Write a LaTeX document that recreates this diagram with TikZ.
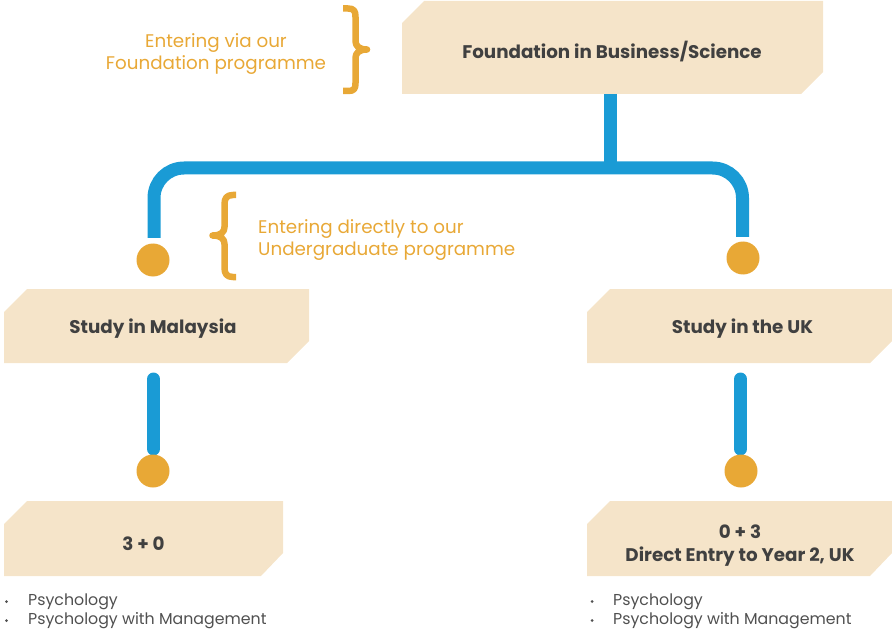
\documentclass[tikz,border=0pt]{standalone}
\usepackage{fontspec}
\setmainfont{Poppins}
\definecolor{boxfill}{HTML}{F5E4C9}
\definecolor{lineblue}{HTML}{1A9BD5}
\definecolor{dotorange}{HTML}{E8A836}
\definecolor{labeltext}{HTML}{404040}
\definecolor{bullettext}{HTML}{505050}
\tikzset{
  boxshape/.style={fill=boxfill, draw=none},
  boxlabel/.style={text=labeltext, font=\fontsize{18.3bp}{23bp}\selectfont\bfseries, align=center, inner sep=0pt},
  notetext/.style={text=dotorange, font=\fontsize{18.3bp}{22bp}\selectfont, align=center, inner sep=0pt},
  bracestroke/.style={draw=dotorange, line width=6.5bp, line cap=butt, line join=round},
  connector/.style={draw=lineblue, line width=13bp},
  enddot/.style={circle, fill=dotorange, minimum size=33bp, inner sep=0pt},
  itemtext/.style={text=bullettext, font=\fontsize{15.8bp}{19bp}\selectfont, anchor=west, inner sep=0pt},
  itemdot/.style={circle, fill=bullettext, minimum size=3bp, inner sep=0pt},
}
\begin{document}
\begin{tikzpicture}[x=1bp,y=-1bp]
\useasboundingbox (0,0) rectangle (892,630);
% boxes (chamfered top-left and bottom-right corners)
\fill[boxshape] (402,23) -- (424,1) -- (823,1) -- (823,72) -- (801,94) -- (402,94) -- cycle;
\fill[boxshape] (4,312) -- (27,289) -- (309,289) -- (309,341) -- (287,363) -- (4,363) -- cycle;
\fill[boxshape] (587,312) -- (610,289) -- (892,289) -- (892,341) -- (870,363) -- (587,363) -- cycle;
\fill[boxshape] (4,524) -- (27,501) -- (283,501) -- (283,553) -- (261,576) -- (4,576) -- cycle;
\fill[boxshape] (587,524) -- (610,501) -- (892,501) -- (892,553) -- (870,576) -- (587,576) -- cycle;
% labels
\node[boxlabel] (found) at (612,51.5) {Foundation in Business/Science};
\node[boxlabel] (malay) at (153,329) {Study in Malaysia};
\node[boxlabel] (uk) at (742.5,329) {Study in the UK};
\node[boxlabel] (threezero) at (143.5,544) {3 + 0};
\node[boxlabel] (zerothree) at (740,545.5) {0 + 3\\Direct Entry to Year 2, UK};
% connection points
\coordinate (foundbot) at (610,94);
\coordinate (junction) at (610,168);
\coordinate (lefttop) at (154,238);
\coordinate (righttop) at (742.5,237);
\coordinate (lowleftA) at (153.5,379);
\coordinate (lowleftB) at (153.5,449);
\coordinate (lowrightA) at (740.5,379);
\coordinate (lowrightB) at (740.5,449);
% connectors
\draw[connector] (foundbot) -- (junction);
\draw[connector, rounded corners=30bp] (lefttop) |- (junction) -| (righttop);
\draw[connector, line cap=round] (lowleftA) -- (lowleftB);
\draw[connector, line cap=round] (lowrightA) -- (lowrightB);
% dots
\node[enddot] (dotUL) at (153,260) {};
\node[enddot] (dotUR) at (743,258) {};
\node[enddot] (dotLL) at (153,471) {};
\node[enddot] (dotLR) at (741,471) {};
% notes and braces
\node[notetext] (noteA) at (216,54.5) {Entering via our\\Foundation programme};
\node[notetext, align=left, anchor=west] (noteB) at (258,240.5) {Entering directly to our\\Undergraduate programme};
\draw[bracestroke] (343,8.5) -- (348,8.5) .. controls (354,8.5) and (355.5,11) .. (355.5,17) -- (355.5,41) .. controls (355.5,46) and (359,49.5) .. (367,49.5) .. controls (359,49.5) and (355.5,53) .. (355.5,58) -- (355.5,83) .. controls (355.5,89) and (354,91) .. (348,91) -- (343,91);
\draw[bracestroke] (236,195) -- (233,195) .. controls (227,195) and (224.5,198) .. (224.5,204) -- (224.5,227) .. controls (224.5,232) and (221,235.5) .. (212.5,235.5) .. controls (221,235.5) and (224.5,239) .. (224.5,244) -- (224.5,268) .. controls (224.5,274) and (227,277) .. (233,277) -- (236,277);
% bullet lists
\node[itemdot] (bl1) at (6.5,601.5) {};
\node[itemdot] (bl2) at (6.5,620.5) {};
\node[itemtext] (tl1) at (28,601.5) {Psychology};
\node[itemtext] (tl2) at (28,620.5) {Psychology with Management};
\node[itemdot] (br1) at (592,601.5) {};
\node[itemdot] (br2) at (592,620.5) {};
\node[itemtext] (tr1) at (613,601.5) {Psychology};
\node[itemtext] (tr2) at (613,620.5) {Psychology with Management};
\end{tikzpicture}
\end{document}
